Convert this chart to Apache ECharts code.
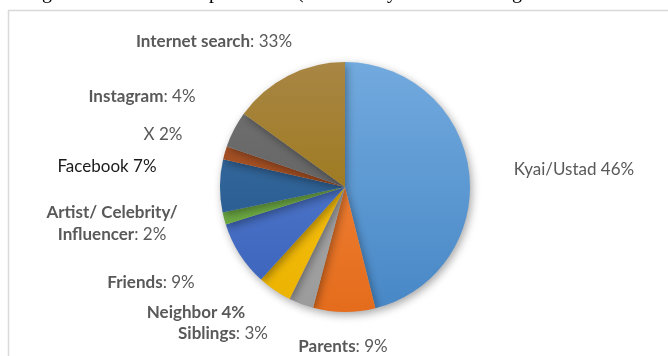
<!DOCTYPE html>
<html>
<head>
<meta charset="utf-8">
<script src="https://cdn.jsdelivr.net/npm/echarts@6/dist/echarts.min.js"></script>
<style>
  html, body { margin: 0; padding: 0; background: #fff; }
  #main { width: 668px; height: 356px; }
</style>
</head>
<body>
<div id="main"></div>
<script>
// 类别（顺时针，从12点开始）
var names = ['Kyai/Ustad', 'Parents', 'Siblings', 'Neighbor', 'Friends',
    'Artist/ Celebrity/ Influencer', 'Facebook', 'X', 'Instagram', 'Internet search'];
// 扇区大小（按图中角度估读）
var values = [46, 8, 3.2, 4.4, 8.4, 1.6, 6.8, 1.7, 4.7, 15];
// 标签上写的百分比
var pctText = ['46%', '9%', '3%', '4%', '9%', '2%', '7%', '2%', '4%', '33%'];

// 颜色（上浅下深）
var topColors = ['#72aade', '#f58b45', '#b0b0b0', '#ffc61a', '#5a82d0', '#78b34f', '#3f72a6', '#ad5a33', '#737373', '#a88644'];
var botColors = ['#4787c6', '#e46c1c', '#9b9b9b', '#ebb300', '#3a62bb', '#63a13b', '#1f5286', '#963f0b', '#595959', '#967000'];

// 标签中心位置
var labelSpots = [[574, 170], [343, 347], [223, 334], [196, 313], [151, 283],
    [112, 224], [107, 167], [163, 135], [142, 97], [214, 42]];

var fmt = function(i) {
    var n = names[i], p = pctText[i];
    if (i == 0) return '{n|' + n + ' ' + p + '}';
    if (i == 3) return '{b|' + n + ' ' + p + '}';
    if (i == 6) return '{k|' + n + ' ' + p + '}';
    if (i == 7) return '{n|' + n + ' ' + p + '}';
    if (i == 5) return '{b|Artist/ Celebrity/}\n{b|Influencer}{n|: ' + p + '}';
    return '{b|' + n + '}{n|: ' + p + '}';
};

var cx = 345, cy = 187, r = 125;

var pieData = values.map(function(v, i) {
    return {
        name: names[i],
        value: v,
        itemStyle: {
            color: {
                type: 'linear', x: 0, y: cy - r, x2: 0, y2: cy + r, global: true,
                colorStops: [{offset: 0, color: topColors[i]}, {offset: 1, color: botColors[i]}]
            }
        }
    };
});

var myChart = echarts.init(document.getElementById('main'));
var font = 'Lato, "Open Sans", sans-serif';
var fs = 17;
option = {
    animation: false,
    graphic: [
        {type: 'rect', shape: {x: 8.5, y: 10.5, width: 700, height: 400},
            style: {fill: 'none', stroke: '#d9d9d9', lineWidth: 1.5}},
        // 上方被截掉的正文
        {type: 'text', x: 42, y: -17, style: {text: 'g', font: '20px "Liberation Serif"', fill: '#000'}},
        {type: 'text', x: 209, y: -17, style: {text: 'p', font: '20px "Liberation Serif"', fill: '#000'}},
        {type: 'text', x: 297, y: -17, style: {text: '(', font: '20px "Liberation Serif"', fill: '#000'}},
        {type: 'text', x: 387, y: -17, style: {text: 'y', font: '20px "Liberation Serif"', fill: '#000'}},
        {type: 'text', x: 512, y: -17, style: {text: 'g', font: '20px "Liberation Serif"', fill: '#000'}}
    ],
    series: [{
        type: 'pie',
        center: [cx, cy],
        radius: [0, r],
        startAngle: 90,
        clockwise: true,
        data: pieData,
        itemStyle: {
            shadowBlur: 8,
            shadowOffsetX: 2,
            shadowOffsetY: 3,
            shadowColor: 'rgba(0,0,0,0.35)'
        },
        labelLine: {show: false},
        label: {
            show: true,
            position: 'outside',
            formatter: function(p) { return fmt(p.dataIndex); },
            align: 'center',
            lineHeight: 22,
            rich: {
                b: {fontFamily: font, fontSize: fs, fontWeight: 'bold', color: '#595959', lineHeight: 22},
                n: {fontFamily: font, fontSize: fs, color: '#595959', lineHeight: 22},
                k: {fontFamily: font, fontSize: fs, color: '#1a1a1a', lineHeight: 22}
            }
        },
        labelLayout: function(params) {
            var s = labelSpots[params.dataIndex];
            return {x: s[0], y: s[1], align: 'center', verticalAlign: 'middle', hideOverlap: false};
        },
        emphasis: {disabled: true}
    }]
};
myChart.setOption(option);
</script>
</body>
</html>
